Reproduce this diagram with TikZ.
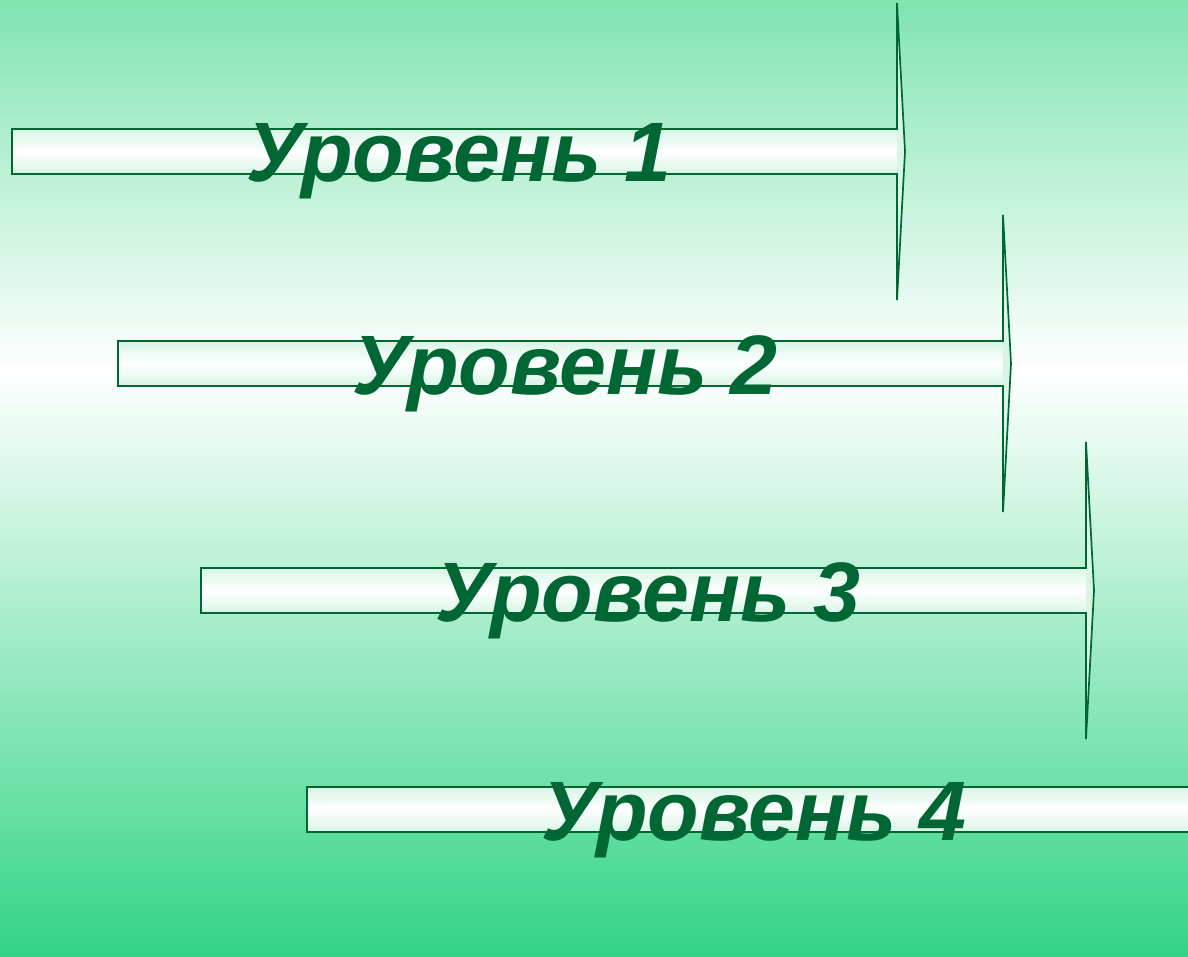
\documentclass[tikz,border=0pt]{standalone}
\usepackage{fontspec}
\setmainfont{Liberation Sans}
\usepackage{xcolor}
\definecolor{bgtop}{HTML}{80E4B1}
\definecolor{bgbottom}{HTML}{33D486}
\definecolor{rim}{HTML}{D8F5E6}
\definecolor{leaf}{HTML}{006633}
\pgfdeclareverticalshading{backdrop}{100bp}{color(0bp)=(bgbottom); color(25bp)=(bgbottom); color(55.7bp)=(white); color(75bp)=(bgtop); color(100bp)=(bgtop)}

\begin{document}
\begin{tikzpicture}[
    x=0.025cm, y=0.025cm,
    barline/.style={draw=leaf, line width=1.2pt},
    levtext/.style={font=\fontsize{60}{72}\selectfont\bfseries\itshape, text=leaf, anchor=base west, inner sep=0pt}
]
\useasboundingbox (0,0) rectangle (1188,956);
\clip (0,0) rectangle (1188,956);
\shade[shading=backdrop] (0,0) rectangle (1188,956);

% One arrow per level: bar, narrow head, caption.
\foreach \n/\bx/\by in {1/12/129, 2/118/341, 3/201/568, 4/307/787} {
    \shade[top color=rim, bottom color=rim, middle color=white] (\bx,956-\by) rectangle (\bx+885,911-\by);
    \fill[rim] (\bx+885,1082-\by) -- (\bx+893,933.5-\by) -- (\bx+885,785-\by) -- cycle;
    \draw[barline] (\bx,956-\by) -- (\bx+885,956-\by) -- (\bx+885,1082-\by)
        -- (\bx+893,933.5-\by) -- (\bx+885,785-\by) -- (\bx+885,911-\by)
        -- (\bx,911-\by) -- cycle;
    \node[levtext] (level\n) at (\bx+234,903-\by) {Уровень \n};
}
\end{tikzpicture}
\end{document}
